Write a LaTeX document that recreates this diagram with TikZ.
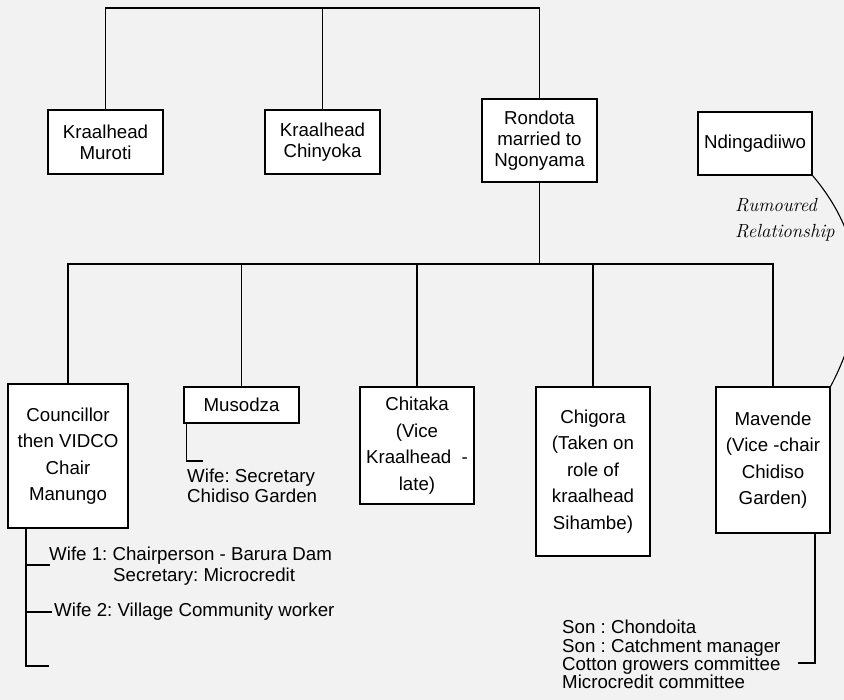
\documentclass[tikz,border=0pt]{standalone}
\usepackage{fontspec}
\setsansfont{Liberation Sans}
\usepackage{tikz}
\frenchspacing

\definecolor{bg}{HTML}{F2F2F2}
\tikzset{
	box/.style={draw, fill=white, line width=1.1pt, align=center, inner sep=0pt,
		font=\sffamily\fontsize{18.7}{21}\selectfont},
	tallbox/.style={box, font=\sffamily\fontsize{18.7}{26.5}\selectfont},
	note/.style={inner sep=0pt, align=left, font=\sffamily\fontsize{18.7}{20}\selectfont},
	link/.style={line width=1.1pt}
}

\begin{document}
\begin{tikzpicture}[x=1pt, y=-1pt]
	\fill[bg] (0,0) rectangle (844,700);
	\useasboundingbox (0,0) rectangle (844,700);

	\node (muroti) at (105.5,142) [box, minimum width=115, minimum height=64] {Kraalhead\\Muroti};
	\node (chinyoka) at (322.5,142) [box, minimum width=115, minimum height=64] {Kraalhead\\Chinyoka};
	\node (rondota) at (539.5,140.5) [box, minimum width=115, minimum height=83] {Rondota\\married to\\Ngonyama};
	\node (ndingadiiwo) at (755,143.5) [box, minimum width=114, minimum height=63] {Ndingadiiwo};
		\node (councillor) at (68,456) [tallbox, minimum width=120, minimum height=144] {Councillor\\then VIDCO\\Chair\\Manungo};
		\node (musodza) at (241.5,405) [box, minimum width=115, minimum height=36] {Musodza};
		\node (chitaka) at (417,445.5) [tallbox, minimum width=114, minimum height=117] {Chitaka\hspace{6pt}\\(Vice\\Kraalhead\ \ -\\late)};
		\node (chigora) at (593,471.5) [tallbox, minimum width=114, minimum height=169] {Chigora\\(Taken on\\role of\\kraalhead\\Sihambe)};
		\node (mavende) at (773,460) [tallbox, minimum width=114, minimum height=146] {Mavende\\(Vice -chair\\Chidiso\\Garden)};
			\node (wifeone) at (49,556) [note, anchor=west] {Wife 1: Chairperson - Barura Dam};
			\node (wifeonesec) at (113,577) [note, anchor=west] {Secretary: Microcredit};
			\node (wifetwo) at (54,612) [note, anchor=west] {Wife 2: Village Community worker};
			\node (musodzawife) at (187,486) [note, anchor=west] {Wife: Secretary\\Chidiso Garden};
			\node (sons) at (562,654.5) [note, anchor=west, font=\sffamily\fontsize{18.7}{18.3}\selectfont] {Son : Chondoita\\Son : Catchment manager\\Cotton growers committee\\Microcredit committee};
	\node (rumour) at (735,220) [anchor=west, inner sep=0pt, align=left, font=\itshape\fontsize{19}{26}\selectfont] {Rumoured\\Relationship};

	\coordinate (top) at (322.5,8);
	\coordinate (kids) at (539.5,264);
	\coordinate (cbr) at (26,528);
	\coordinate (wa) at (50,565);
	\coordinate (wb) at (52,612);
	\coordinate (wc) at (49,666);
	\coordinate (mw) at (203,461);
	\coordinate (mvb) at (815,533);
	\coordinate (mvs) at (798,663);

	\draw[link] (top) -| (muroti);
	\draw[link] (top) -| (chinyoka);
	\draw[link] (top) -| (rondota);
	\draw[link] (rondota) -- (kids);
	\draw[link] (kids) -| (councillor);
	\draw[link] (kids) -| (musodza);
	\draw[link] (kids) -| (chitaka);
	\draw[link] (kids) -| (chigora);
	\draw[link] (kids) -| (mavende);
	\draw[link] (cbr) |- (wc);
	\draw[link] (cbr |- wa) -- (wa);
	\draw[link] (cbr |- wb) -- (wb);
	\draw[link] (musodza.south west) ++(3,0) |- (mw);
	\draw[link] (mvb) |- (mvs);
	\draw[link] (ndingadiiwo.south east) .. controls (880,255) and (858,335) .. (mavende.north east);
\end{tikzpicture}
\end{document}
